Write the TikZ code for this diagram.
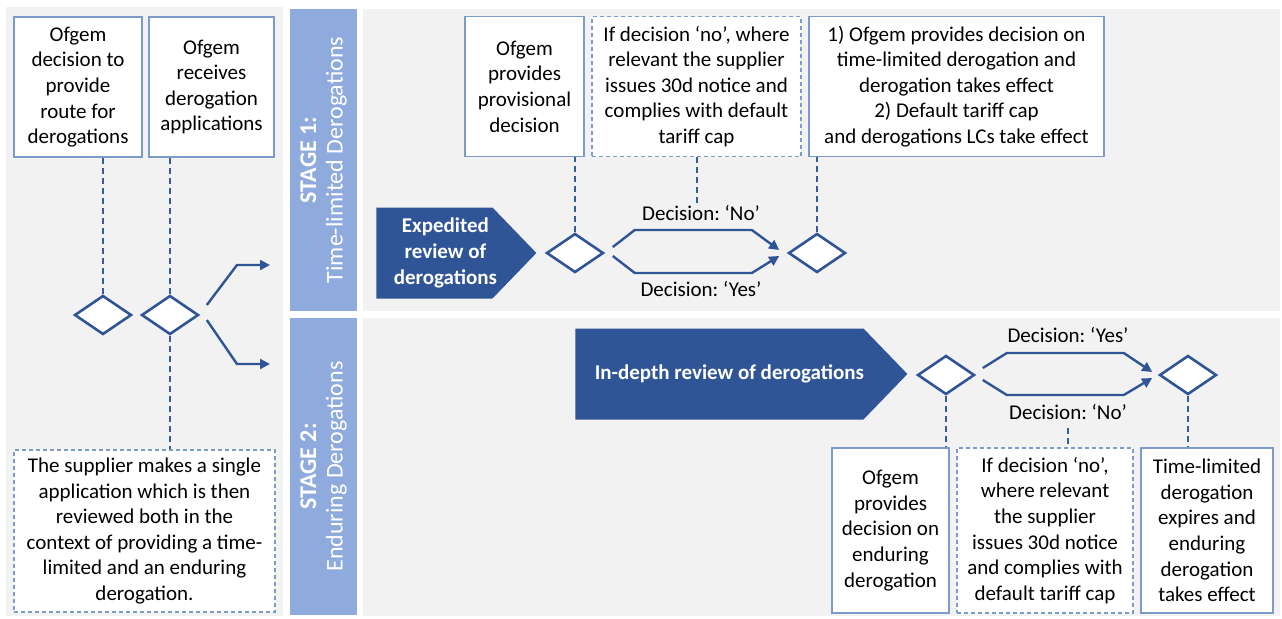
\documentclass[tikz,border=0pt]{standalone}
\usepackage{fontspec}
\setmainfont{Carlito}
\usetikzlibrary{shapes.geometric, shapes.symbols, arrows.meta, positioning, calc}
\definecolor{panelgray}{RGB}{242, 242, 242}
\definecolor{stageblue}{RGB}{143, 170, 220}
\definecolor{darkblue}{RGB}{47, 85, 151}
\definecolor{boxborder}{RGB}{124, 155, 200}
\definecolor{linkblue}{RGB}{60, 92, 150}
\frenchspacing

\begin{document}
\begin{tikzpicture}[
    x=0.5pt, y=-0.5pt,
    font=\fontsize{10.5}{12.8}\selectfont,
    band/.style={rectangle, rotate=90, fill=stageblue, text=white, align=center,
                 minimum height=33.5pt, inner sep=0pt, font=\fontsize{12}{13.2}\selectfont},
    infobox/.style={rectangle, draw=boxborder, fill=white, line width=0.75pt,
                    align=center, inner sep=2pt, minimum height=70pt},
    notebox/.style={infobox, dash pattern=on 2pt off 1.5pt},
    dec/.style={diamond, draw=darkblue, fill=white, line width=1.3pt,
                minimum width=28.5pt, minimum height=19.5pt, inner sep=0pt},
    review/.style={signal, signal to=east, signal pointer angle=92, fill=darkblue,
                   minimum height=45.5pt, anchor=west},
    reviewtext/.style={text=white, align=center, inner sep=0pt,
                       font=\fontsize{10.5}{12.8}\selectfont\bfseries},
    flow/.style={-{Triangle[length=5pt, width=5pt]}, draw=darkblue, line width=1.2pt},
    link/.style={draw=linkblue, line width=1pt, dash pattern=on 3pt off 2pt},
    declabel/.style={inner sep=1pt}
]
\useasboundingbox (0,0) rectangle (1282,618);

% =========== backgrounds ===========
\fill[panelgray] (6,7) rectangle (283,616);
\fill[panelgray] (363,9) rectangle (1280,311);
\fill[panelgray] (363,318) rectangle (1280,616);

\node[band, minimum width=151pt]   (stage1) at (323.5,160)   {\textbf{STAGE 1:}\\Time-limited Derogations};
\node[band, minimum width=148.5pt] (stage2) at (323.5,466.5) {\textbf{STAGE 2:}\\Enduring Derogations};

% =========== left column: application ===========
\node[infobox, minimum width=64pt]   (route) at (78,87)    {Ofgem\\decision to\\provide\\route for\\derogations};
\node[infobox, minimum width=62.5pt] (recv)  at (211.5,87) {Ofgem\\receives\\derogation\\applications};
\node[dec] (route_d) at (103,315) {};
\node[dec] (recv_d)  at (170,315) {};
\node[notebox, minimum width=130.5pt, minimum height=81pt] (single) at (144.5,531)
    {The supplier makes a single\\application which is then\\reviewed both in the\\context of providing a time-\\limited and an enduring\\derogation.};

\coordinate (toS1) at (270,265);
\coordinate (toS2) at (270,364);

\draw[link] (route_d.north) -- (route_d.north |- route.south);
\draw[link] (recv_d.north)  -- (recv_d.north |- recv.south);
\draw[link] (recv_d.south)  -- (recv_d.south |- single.north);
\draw[flow] ([shift={(7,-10)}]recv_d.east) -- ($(toS1)+(-33,0)$) -- (toS1);
\draw[flow] ([shift={(7,5)}]recv_d.east)   -- ($(toS2)+(-33,0)$) -- (toS2);

% =========== STAGE 1: time-limited ===========
\node[review, minimum width=80pt] (expd) at (376,253) {};
\node[reviewtext] (expdtxt) at ([xshift=5.5pt]expd.center) {Expedited\\review of\\derogations};
\node[dec] (prov_d) at (575,253) {};
\node[dec] (eff_d)  at (817,253) {};

\node[infobox, minimum width=59.5pt]  (prov)    at (524.5,86.5) {Ofgem\\provides\\provisional\\decision};
\node[notebox, minimum width=104.5pt] (notice1) at (696.5,86.5)
    {If decision ‘no’, where\\relevant the supplier\\issues 30d notice and\\complies with default\\tariff cap};
\node[infobox, minimum width=147.5pt] (eff)     at (956.5,86.5)
    {1) Ofgem provides decision on\\time-limited derogation and\\derogation takes effect\\2) Default tariff cap\\and derogations LCs take effect};

\node[declabel] (no1)  at (701,213) {Decision: ‘No’};
\node[declabel] (yes1) at (701,289) {Decision: ‘Yes’};

\draw[flow] ([shift={(8,-6)}]prov_d.east) -- ++(22,-17) -- ++(117,0) -- ([shift={(-8,-3)}]eff_d.west);
\draw[flow] ([shift={(8,3)}]prov_d.east)  -- ++(22,17)  -- ++(117,0) -- ([shift={(-8,3)}]eff_d.west);

\draw[link] (prov_d.north)  -- (prov_d.north |- prov.south);
\draw[link] (notice1.south) -- (notice1.south |- no1.north);
\draw[link] (eff_d.north)   -- (eff_d.north |- eff.south);

% =========== STAGE 2: enduring ===========
\node[review, minimum width=166pt] (indepth) at (575,374) {};
\node[reviewtext] (indepthtxt) at ([xshift=5pt]indepth.center) {In-depth review of derogations};
\node[dec] (end_d) at (946,375) {};
\node[dec] (exp_d) at (1188,375) {};

\node[declabel] (yes2) at (1068,335) {Decision: ‘Yes’};
\node[declabel] (no2)  at (1068,412) {Decision: ‘No’};

\node[infobox, minimum width=58.5pt, minimum height=82.5pt] (endur)   at (890.5,530.5)
    {Ofgem\\provides\\decision on\\enduring\\derogation};
\node[notebox, minimum width=88pt, minimum height=82.5pt]   (notice2) at (1045,530.5)
    {If decision ‘no’,\\where relevant\\the supplier\\issues 30d notice\\and complies with\\default tariff cap};
\node[infobox, minimum width=66pt, minimum height=82.5pt]   (expire)  at (1207,530.5)
    {Time-limited\\derogation\\expires and\\enduring\\derogation\\takes effect};

\draw[flow] ([shift={(7,-7)}]end_d.east) -- ++(24,-15) -- ++(117,0) -- ([shift={(-6,-3)}]exp_d.west);
\draw[flow] ([shift={(7,5)}]end_d.east)  -- ++(24,15)  -- ++(117,0) -- ([shift={(-6,3)}]exp_d.west);

\draw[link] (end_d.south) -- (end_d.south |- endur.north);
\draw[link] ([yshift=-3pt]no2.south) -- (no2.south |- notice2.north);
\draw[link] (exp_d.south) -- (exp_d.south |- expire.north);

\end{tikzpicture}
\end{document}
